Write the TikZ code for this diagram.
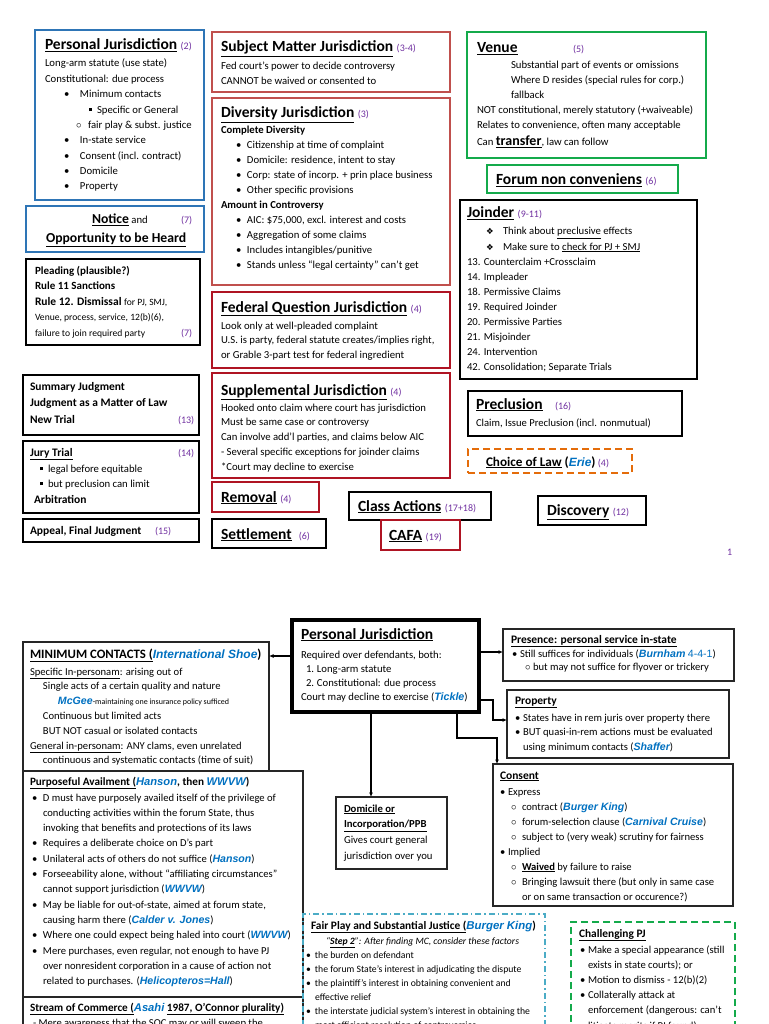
\documentclass[tikz,border=0pt]{standalone}
\usepackage{fontspec}
\setmainfont{Carlito}
\newfontfamily\casefont{Liberation Sans}
\newfontfamily\djv{DejaVu Sans}
\usetikzlibrary{arrows.meta}
\definecolor{cBlue}{RGB}{46,117,182}
\definecolor{cRed}{RGB}{192,80,77}
\definecolor{cDark}{RGB}{175,20,35}
\definecolor{cGreen}{RGB}{20,170,75}
\definecolor{cPurple}{RGB}{112,48,160}
\definecolor{cCase}{RGB}{0,112,192}
\definecolor{cOrange}{RGB}{228,108,10}
\definecolor{cAqua}{RGB}{75,172,198}
\newcommand\ML[2][0]{\hbox{\hskip#1pt\relax#2}}
\newcommand\VB[2]{\vtop{\baselineskip=#1pt\lineskiplimit=-20pt\lineskip=0pt #2}}
\newcommand\pn[1]{{\mdseries\fontsize{10}{11}\selectfont\color{cPurple}#1}}
\newcommand\cs[1]{{\casefont\bfseries\itshape\color{cCase}#1}}
\newcommand\Bbul[1]{\makebox[#1pt][l]{\textbullet}}
\newcommand\Bsq[1]{\makebox[#1pt][l]{\rule[1.8pt]{3.2pt}{3.2pt}}}
\newcommand\Bcir[1]{\makebox[#1pt][l]{$\circ$}}
\newcommand\Bdia[1]{\makebox[#1pt][l]{{\djv\fontsize{8.5}{9}\selectfont ❖}}}
\newcommand\RBox[6]{\node[#2,inner sep=0pt,outer sep=0pt,minimum width={(#5-#3)*1pt},minimum height={(#6-#4)*1pt},anchor=north west] (#1) at (#3,#4) {};}
\newcommand\fs[1]{\fontsize{#1}{#1}\selectfont}
\tikzset{
  blubox/.style={draw=cBlue,line width=2.6pt},
  redbox/.style={draw=cRed,line width=2.2pt},
  drkbox/.style={draw=cDark,line width=2.2pt},
  grnbox/.style={draw=cGreen,line width=2.6pt},
  blkbox/.style={draw=black,line width=1.6pt},
  thkbox/.style={draw=black,line width=2.6pt},
  thinbox/.style={draw=black!85,line width=1.1pt},
  orgbox/.style={draw=cOrange,line width=1.8pt,dash pattern=on 7pt off 4pt},
  aquabox/.style={draw=cAqua,line width=1.4pt,dash pattern=on 6pt off 3pt on 1.5pt off 3pt},
  gdbox/.style={draw=cGreen,line width=1.8pt,dash pattern=on 7pt off 4pt},
  tx/.style={anchor=base west,inner sep=0pt,outer sep=0pt,font=\fs{10.7}},
  sx/.style={anchor=base west,inner sep=0pt,outer sep=0pt,font=\fs{10.6}},
  bx/.style={anchor=base west,inner sep=0pt,outer sep=0pt,font=\fs{11.5}\bfseries},
  tt/.style={anchor=base west,inner sep=0pt,outer sep=0pt,font=\fs{15.5}\bfseries},
  arr/.style={line width=1.2pt,-{Latex[length=4.5pt,width=4pt]}}
}
\begin{document}
\begin{tikzpicture}[x=1pt,y=-1pt]
\useasboundingbox (0,0) rectangle (768,1024);
\clip (0,0) rectangle (768,1024);
% ---------- TOP HALF ----------
\RBox{pj}{blubox}{35}{30}{204}{200}
\node[tt] (pjT) at (45,50) {\underline{Personal Jurisdiction} \pn{(2)}};
\node[tx] (pjB) at (45,67) {\VB{15.35}{%
\ML{Long-arm statute (use state)}%
\ML{Constitutional: due process}%
\ML[19]{\Bbul{16}Minimum contacts}%
\ML[44]{\Bsq{8}Specific or General}%
\ML[31]{\Bcir{12}fair play \& subst. justice}%
\ML[19]{\Bbul{16}In-state service}%
\ML[19]{\Bbul{16}Consent (incl. contract)}%
\ML[19]{\Bbul{16}Domicile}%
\ML[19]{\Bbul{16}Property}}};

\RBox{notice}{blubox}{26}{206}{204}{252}
\node[tx] (noA) at (92,224) {{\fs{13.7}\bfseries\underline{Notice}} and};
\node[tx] (noN) at (181,224) {\pn{(7)}};
\node[tx] (noB) at (46,243) {\fs{13.7}\bfseries\underline{Opportunity to be Heard}};

\RBox{plead}{blkbox}{26}{259}{200}{345}
\node[tx,font=\fs{11}\bfseries] (plB) at (35,274) {\VB{15.5}{%
\ML{Pleading (plausible?)}%
\ML{Rule 11 Sanctions}%
\ML{\fs{11.5}Rule 12. Dismissal {\mdseries\fs{9.6}for PJ, SMJ,}}%
\ML{\mdseries\fs{9.6}Venue, process, service, 12(b)(6),}%
\ML{\mdseries\fs{9.6}failure to join required party}}};
\node[tx] (plN) at (181,336) {\pn{(7)}};

\RBox{summ}{blkbox}{23}{375}{199}{435}
\node[bx] (suB) at (30,390) {\VB{16.5}{%
\ML{Summary Judgment}\ML{Judgment as a Matter of Law}\ML{New Trial}}};
\node[tx] (suN) at (178,423) {\pn{(13)}};

\RBox{jury}{blkbox}{23}{441}{199}{513}
\node[bx] (juT) at (30,456) {\underline{Jury Trial}};
\node[tx] (juN) at (178,456) {\pn{(14)}};
\node[tx] (juB) at (40,472) {\VB{15}{\ML{\Bsq{8}legal before equitable}\ML{\Bsq{8}but preclusion can limit}}};
\node[bx] (juA) at (34,503) {Arbitration};

\RBox{appeal}{blkbox}{23}{519}{199}{542}
\node[bx] (apT) at (30,534) {Appeal, Final Judgment};
\node[tx] (apN) at (155,534) {\pn{(15)}};

\RBox{smj}{redbox}{212}{32}{450}{92}
\node[tt] (smT) at (221,52) {\underline{Subject Matter Jurisdiction} \pn{(3-4)}};
\node[tx] (smB) at (221,70) {\VB{14.5}{\ML{Fed court’s power to decide controversy}\ML{CANNOT be waived or consented to}}};

\RBox{div}{redbox}{212}{98}{450}{285}
\node[tt] (dvT) at (221,118) {\underline{Diversity Jurisdiction} \pn{(3)}};
\node[tx] (dvB) at (221,134) {\VB{14.9}{%
\ML{\bfseries Complete Diversity}%
\ML[15]{\Bbul{11}Citizenship at time of complaint}%
\ML[15]{\Bbul{11}Domicile: residence, intent to stay}%
\ML[15]{\Bbul{11}Corp: state of incorp. + prin place business}%
\ML[15]{\Bbul{11}Other specific provisions}%
\ML{\bfseries Amount in Controversy}%
\ML[15]{\Bbul{11}AIC: \$75,000, excl. interest and costs}%
\ML[15]{\Bbul{11}Aggregation of some claims}%
\ML[15]{\Bbul{11}Includes intangibles/punitive}%
\ML[15]{\Bbul{11}Stands unless “legal certainty” can’t get}}};

\RBox{fq}{drkbox}{212}{292}{450}{368}
\node[tt] (fqT) at (221,312) {\underline{Federal Question Jurisdiction} \pn{(4)}};
\node[tx] (fqB) at (221,329) {\VB{14.5}{%
\ML{Look only at well-pleaded complaint}%
\ML{U.S. is party, federal statute creates/implies right,}%
\ML{or Grable 3-part test for federal ingredient}}};

\RBox{supp}{drkbox}{212}{373}{450}{478}
\node[tt] (spT) at (221,395) {\underline{Supplemental Jurisdiction} \pn{(4)}};
\node[tx] (spB) at (221,411) {\VB{14.75}{%
\ML{Hooked onto claim where court has jurisdiction}%
\ML{Must be same case or controversy}%
\ML{Can involve add’l parties, and claims below AIC}%
\ML{- Several specific exceptions for joinder claims}%
\ML{*Court may decline to exercise}}};

\RBox{remov}{drkbox}{212}{482}{319}{512}
\node[tt] (rmT) at (221,502) {\underline{Removal} \pn{(4)}};
\RBox{settle}{blkbox}{212}{519}{326}{548}
\node[tt] (stT) at (221,539) {\underline{Settlement}\ \ \pn{(6)}};
\RBox{class}{blkbox}{349}{492}{491}{520}
\node[tt] (clT) at (358,511) {\underline{Class Actions} \pn{(17+18)}};
\RBox{cafa}{drkbox}{381}{520}{460}{550}
\node[tt] (cfT) at (389,540) {\underline{CAFA} \pn{(19)}};

\RBox{venue}{grnbox}{467}{32}{706}{158}
\node[tt] (veT) at (477,53) {\underline{Venue}};
\node[tx] (veN) at (573,53) {\pn{(5)}};
\node[tx] (veA) at (511,69) {\VB{15}{%
\ML{Substantial part of events or omissions}%
\ML{Where D resides (special rules for corp.)}%
\ML{fallback}}};
\node[tx] (veB) at (477,114) {\VB{15}{%
\ML{NOT constitutional, merely statutory (+waiveable)}%
\ML{Relates to convenience, often many acceptable}}};
\node[tx] (veC) at (477,146) {Can {\fs{14}\bfseries\underline{transfer}}, law can follow};

\RBox{forum}{grnbox}{487}{165}{678}{193}
\node[tt] (fnT) at (496,185) {\underline{Forum non conveniens} \pn{(6)}};

\RBox{join}{blkbox}{460}{200}{697}{379}
\node[tt] (joT) at (467,218) {\underline{Joinder} \pn{(9-11)}};
\node[tx] (joA) at (486,235) {\VB{15}{%
\ML{\Bdia{17}Think about \underline{preclusive} effects}%
\ML{\Bdia{17}Make sure to \underline{check for PJ + SMJ}}}};
\node[tx] (joB) at (467,265) {\VB{15}{%
\ML{13. Counterclaim +Crossclaim}%
\ML{14. Impleader}%
\ML{18. Permissive Claims}%
\ML{19. Required Joinder}%
\ML{20. Permissive Parties}%
\ML{21. Misjoinder}%
\ML{24. Intervention}%
\ML{42. Consolidation; Separate Trials}}};

\RBox{precl}{blkbox}{468}{391}{682}{436}
\node[tt] (prT) at (476,409) {\underline{Preclusion}};
\node[tx] (prN) at (555,409) {\pn{(16)}};
\node[sx] (prB) at (476,426) {Claim, Issue Preclusion (incl. nonmutual)};

\RBox{choice}{orgbox}{468}{449}{632}{473}
\node[tx] (chT) at (486,466) {{\fs{13.2}\bfseries\underline{Choice of Law} (}{\fs{12}\cs{Erie}}{\fs{13.2}\bfseries)} \pn{(4)}};

\RBox{disc}{thkbox}{538}{496}{646}{525}
\node[tt] (dsT) at (547,515) {\underline{Discovery} \pn{(12)}};

\node[tx] (page) at (727,555) {\pn{1}};

% ---------- BOTTOM HALF ----------
\RBox{pjb}{draw=black,line width=3.6pt}{292}{620}{479}{712}
\node[tt] (pbT) at (301,639) {\underline{Personal Jurisdiction}};
\node[tx] (pbB) at (301,658) {\VB{14.3}{%
\ML{Required over defendants, both:}%
\ML[5]{\makebox[11pt][l]{1.}Long-arm statute}%
\ML[5]{\makebox[11pt][l]{2.}Constitutional: due process}%
\ML{Court may decline to exercise (\cs{Tickle})}}};

\RBox{dom}{thinbox}{336}{797}{447}{869}
\node[tx] (doB) at (344,812) {\VB{15.7}{%
\ML{\bfseries\underline{Domicile or}}%
\ML{\bfseries\underline{Incorporation/PPB}}%
\ML{Gives court general}%
\ML{jurisdiction over you}}};

\RBox{pres}{thinbox}{503}{629}{734}{681}
\node[bx] (psT) at (511,643) {\underline{Presence: personal service in-state}};
\node[sx] (psB) at (512,657) {\VB{13.5}{%
\ML{\Bbul{8}Still suffices for individuals (\cs{Burnham} {\casefont\color{cCase}4-4-1})}%
\ML[13]{\Bcir{8}but may not suffice for flyover or trickery}}};

\RBox{prop}{thinbox}{507}{690}{729}{758}
\node[bx] (poT) at (515,704) {\underline{Property}};
\node[sx] (poB) at (515,721) {\VB{14.5}{%
\ML{\Bbul{8}States have in rem juris over property there}%
\ML{\Bbul{8}BUT quasi-in-rem actions must be evaluated}%
\ML[8]{using minimum contacts (\cs{Shaffer})}}};

\RBox{cons}{thinbox}{493}{764}{733}{906}
\node[bx] (coT) at (500,779) {\underline{Consent}};
\node[sx] (coB) at (500,795) {\VB{15}{%
\ML{\Bbul{8}Express}%
\ML[11]{\Bcir{11}contract (\cs{Burger King})}%
\ML[11]{\Bcir{11}forum-selection clause (\cs{Carnival Cruise})}%
\ML[11]{\Bcir{11}subject to (very weak) scrutiny for fairness}%
\ML{\Bbul{8}Implied}%
\ML[11]{\Bcir{11}{\bfseries\underline{Waived}} by failure to raise}%
\ML[11]{\Bcir{11}Bringing lawsuit there (but only in same case}%
\ML[22]{or on same transaction or occurence?)}}};

\RBox{mc}{thinbox}{23}{642}{269}{771}
\node[sx,font=\fs{12.8}\bfseries] (mcT) at (30,658) {\underline{MINIMUM CONTACTS (}{\fs{12}\cs{International Shoe}})};
\node[sx] (mcB) at (30,675) {\VB{14.8}{%
\ML{\underline{Specific In-personam}: arising out of}%
\ML[13]{Single acts of a certain quality and nature}%
\ML[28]{\cs{McGee}{\fs{8}-maintaining one insurance policy sufficed}}%
\ML[13]{Continuous but limited acts}%
\ML[13]{BUT NOT casual or isolated contacts}%
\ML{\underline{General in-personam}: ANY clams, even unrelated}%
\ML[13]{continuous and systematic contacts (time of suit)}}};

\RBox{purp}{thinbox}{23}{771}{303}{997}
\node[sx,font=\fs{11.2}\bfseries] (puT) at (30,785) {\underline{Purposeful Availment (}\cs{Hanson}, then \cs{WWVW})};
\node[sx] (puB) at (32,801) {\VB{15.3}{%
\ML{\Bbul{11}D must have purposely availed itself of the privilege of}%
\ML[11]{conducting activities within the forum State, thus}%
\ML[11]{invoking that benefits and protections of its laws}%
\ML{\Bbul{11}Requires a deliberate choice on D’s part}%
\ML{\Bbul{11}Unilateral acts of others do not suffice (\cs{Hanson})}%
\ML{\Bbul{11}Forseeability alone, without “affiliating circumstances”}%
\ML[11]{cannot support jurisdiction (\cs{WWVW})}%
\ML{\Bbul{11}May be liable for out-of-state, aimed at forum state,}%
\ML[11]{causing harm there (\cs{Calder v. Jones})}%
\ML{\Bbul{11}Where one could expect being haled into court (\cs{WWVW})}%
\ML{\Bbul{11}Mere purchases, even regular, not enough to have PJ}%
\ML[11]{over nonresident corporation in a cause of action not}%
\ML[11]{related to purchases. (\cs{Helicopteros=Hall})}}};

\RBox{stream}{thinbox}{23}{997}{303}{1040}
\node[sx,font=\fs{11.2}\bfseries] (soT) at (30,1011) {\underline{Stream of Commerce (}\cs{Asahi} \underline{1987, O’Connor plurality)}};
\node[sx] (soB) at (33,1026) {- Mere awareness that the SOC may or will sweep the};

\RBox{fair}{aquabox}{303}{914}{545}{1040}
\node[sx,font=\fs{11.4}\bfseries] (faT) at (311,929) {\underline{Fair Play and Substantial Justice (}\cs{Burger King})};
\node[sx,font=\fs{9.7}\itshape] (faS) at (326,944) {“{\bfseries\underline{Step 2}}”: After finding MC, consider these factors};
\node[sx,font=\fs{9.7}] (faB) at (306,958) {\VB{14}{%
\ML{\Bbul{9}the burden on defendant}%
\ML{\Bbul{9}the forum State’s interest in adjudicating the dispute}%
\ML{\Bbul{9}the plaintiff’s interest in obtaining convenient and}%
\ML[9]{effective relief}%
\ML{\Bbul{9}the interstate judicial system’s interest in obtaining the}%
\ML[9]{most efficient resolution of controversies}}};

\RBox{chal}{gdbox}{571}{922}{735}{1040}
\node[bx,font=\fs{11.4}\bfseries] (cpT) at (579,937) {\underline{Challenging PJ}};
\node[sx] (cpB) at (580,953) {\VB{15.2}{%
\ML{\Bbul{8}Make a special appearance (still}%
\ML[8]{exists in state courts); or}%
\ML{\Bbul{8}Motion to dismiss - 12(b)(2)}%
\ML{\Bbul{8}Collaterally attack at}%
\ML[8]{enforcement (dangerous: can’t}%
\ML[8]{litigate merits if PJ found)}}};

% connectors
\draw[arr] ([xshift=79pt]pjb.south west) -- ([xshift=35pt]dom.north west);
\draw[arr] ([yshift=-32pt]pjb.north east) -- ([yshift=-23pt]pres.north west);
\draw[arr] ([yshift=-80pt]pjb.north east) -- ++(14,0) |- ([yshift=-30pt]prop.north west);
\draw[arr] ([xshift=165pt]pjb.south west) -- ++(0,26) -| ([xshift=4pt]cons.north west);
\draw[arr] ([yshift=-36pt]pjb.north west) -- ([yshift=-14pt]mc.north east);
\end{tikzpicture}
\end{document}
